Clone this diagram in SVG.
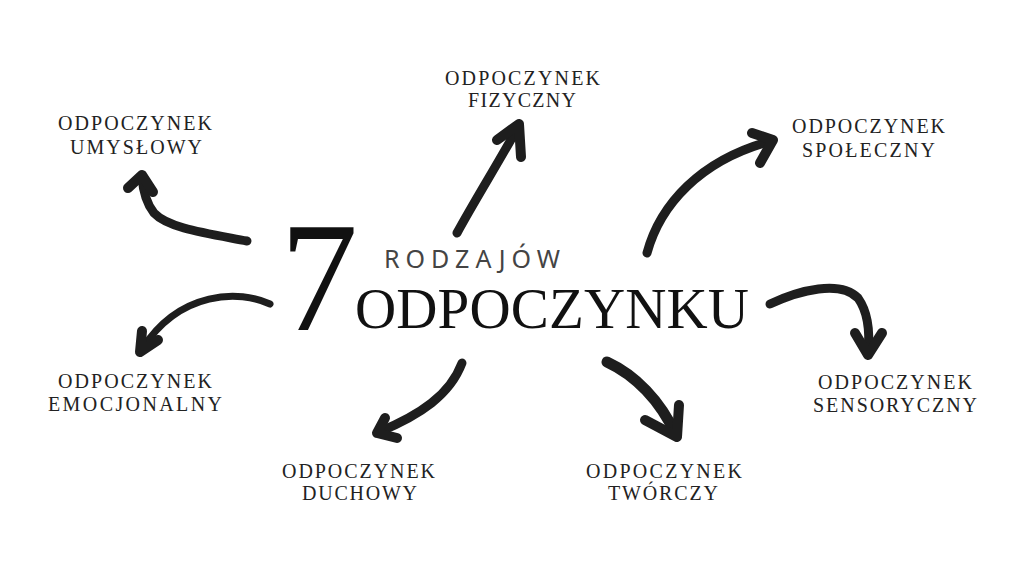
<svg xmlns="http://www.w3.org/2000/svg" width="1024" height="576" viewBox="0 0 1024 576">
<style>
.lbl{font-family:"Liberation Serif","DejaVu Serif",serif;font-size:20px;fill:#222}
.ar{fill:none;stroke:#1e1e1e;stroke-linecap:round;stroke-linejoin:round}
.shaft{stroke-width:9}
.head{stroke-width:10}
</style>
<rect width="1024" height="576" fill="#ffffff"/>
<g id="title">
<text x="280" y="330" font-family="Liberation Serif,DejaVu Serif,serif" font-size="156" fill="#111">7</text>
<text x="384" y="268" font-family="Noto Sans,Open Sans,sans-serif" font-size="25" fill="#444" textLength="176" lengthAdjust="spacing">RODZAJÓW</text>
<text x="355" y="328" font-family="Liberation Serif,DejaVu Serif,serif" font-size="57" fill="#111" textLength="394" lengthAdjust="spacing">ODPOCZYNKU</text>
</g>
<g id="connectors">
<path class="ar shaft" d="M247,241 C205,233 168,228 154,213 C146,203 143,190 142,177"/>
<path class="ar head" d="M128,188 L142,175 L153,192"/>
<path class="ar shaft" d="M457,233 C475,200 500,160 518,127"/>
<path class="ar head" d="M497,140 L519,124 L521,157"/>
<path class="ar shaft" d="M647,253 C660,205 700,160 771,141"/>
<path class="ar head" d="M752,133 L773,140 L760,163"/>
<path class="ar shaft" d="M770,304 C800,290 840,280 858,298 C868,312 870,333 868,353"/>
<path class="ar head" d="M855,333 L868,355 L882,333"/>
<path class="ar" stroke-width="11" d="M607,362 C635,375 660,400 676,435"/>
<path class="ar head" d="M645,420 L677,437 L679,405"/>
<path class="ar shaft" d="M462,363 C450,395 420,415 379,432"/>
<path class="ar head" d="M385,418 L377,433 L397,438"/>
<path class="ar" stroke-width="7" d="M270,304 C240,290 180,290 142,349"/>
<path class="ar head" d="M142,331 L140,352 L158,340"/>
</g>
<g id="n-umyslowy">
<text class="lbl" x="58" y="130" textLength="154" lengthAdjust="spacing">ODPOCZYNEK</text>
<text class="lbl" x="70" y="154" textLength="132" lengthAdjust="spacing">UMYSŁOWY</text>
</g>
<g id="n-fizyczny">
<text class="lbl" x="445" y="85" textLength="155" lengthAdjust="spacing">ODPOCZYNEK</text>
<text class="lbl" x="468" y="107" textLength="108" lengthAdjust="spacing">FIZYCZNY</text>
</g>
<g id="n-spoleczny">
<text class="lbl" x="792" y="133" textLength="153" lengthAdjust="spacing">ODPOCZYNEK</text>
<text class="lbl" x="802" y="157" textLength="133" lengthAdjust="spacing">SPOŁECZNY</text>
</g>
<g id="n-sensoryczny">
<text class="lbl" x="818" y="389" textLength="154" lengthAdjust="spacing">ODPOCZYNEK</text>
<text class="lbl" x="813" y="412" textLength="164" lengthAdjust="spacing">SENSORYCZNY</text>
</g>
<g id="n-tworczy">
<text class="lbl" x="586" y="478" textLength="156" lengthAdjust="spacing">ODPOCZYNEK</text>
<text class="lbl" x="608" y="500" textLength="110" lengthAdjust="spacing">TWÓRCZY</text>
</g>
<g id="n-duchowy">
<text class="lbl" x="282" y="478" textLength="153" lengthAdjust="spacing">ODPOCZYNEK</text>
<text class="lbl" x="302" y="500" textLength="115" lengthAdjust="spacing">DUCHOWY</text>
</g>
<g id="n-emocjonalny">
<text class="lbl" x="58" y="388" textLength="154" lengthAdjust="spacing">ODPOCZYNEK</text>
<text class="lbl" x="48" y="411" textLength="174" lengthAdjust="spacing">EMOCJONALNY</text>
</g>
</svg>
